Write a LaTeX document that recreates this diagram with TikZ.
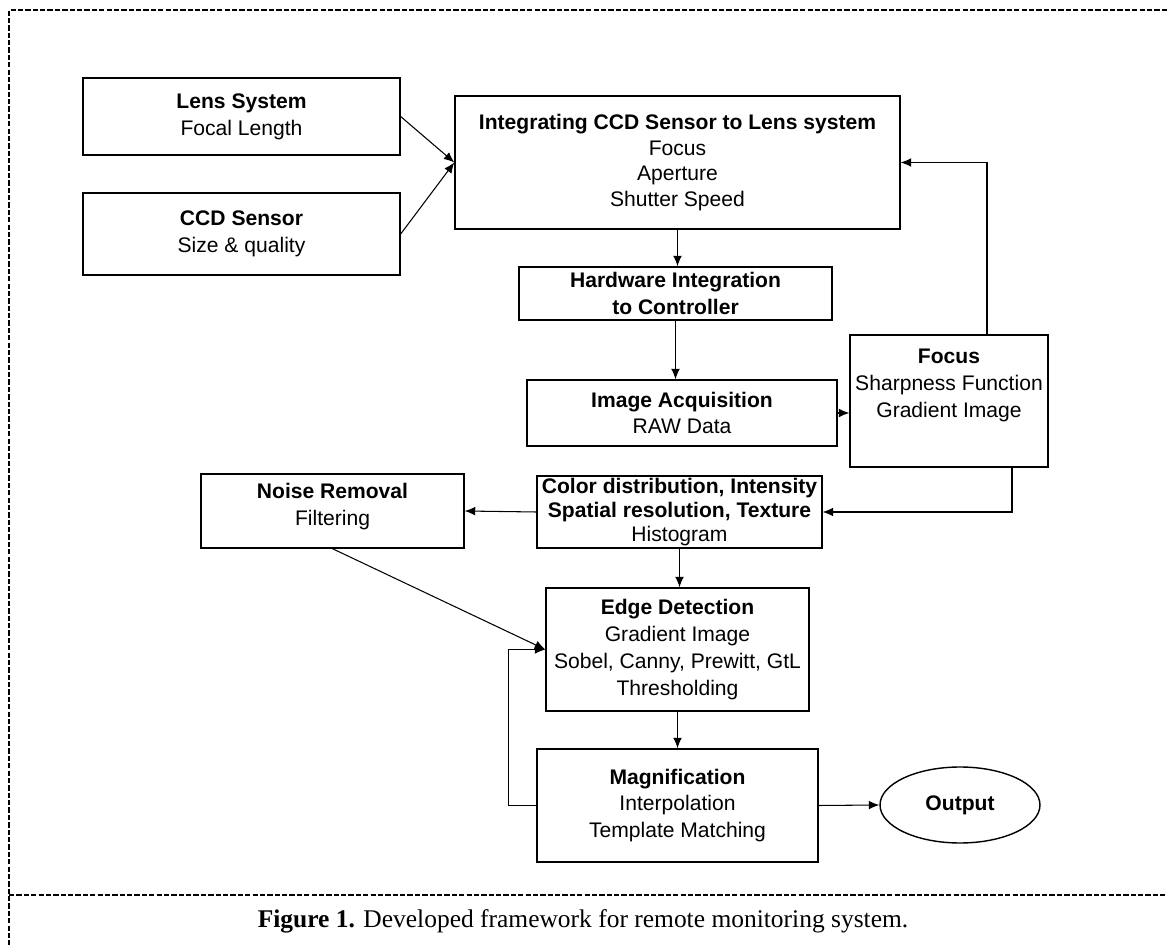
\documentclass[tikz,border=0pt]{standalone}
\usepackage{fontspec}
\setmainfont{Liberation Serif}
\setsansfont{Liberation Sans}
\usetikzlibrary{arrows.meta,shapes.geometric}

\begin{document}
\begin{tikzpicture}[x=0.02cm,y=-0.02cm,
  blk/.style={draw, line width=0.8pt, align=center, inner sep=1pt,
    font=\sffamily\fontsize{12}{15.3}\selectfont},
  arr/.style={-{Latex[length=6pt,width=5pt]}, line width=0.6pt},
  frame/.style={line width=1pt, dash pattern=on 3pt off 1.2pt}]
\useasboundingbox (0,0) rectangle (1167,945);
% outer frame
\draw[frame] (1167,10) -- (9,10) -- (9,945);
\draw[frame] (9,895) -- (1167,895);
% blocks
\node[blk, minimum width=6.34cm, minimum height=1.54cm] (lens) at (241.5,116.5) {\textbf{Lens System}\\Focal Length};
\node[blk, minimum width=6.34cm, minimum height=1.64cm] (ccd) at (241.5,234) {\textbf{CCD Sensor}\\Size \& quality};
\node[blk, minimum width=8.9cm, minimum height=2.66cm, font=\sffamily\fontsize{12}{14.5}\selectfont] (integ) at (677.5,162.5) {\textbf{Integrating CCD Sensor to Lens system}\\Focus\\Aperture\\Shutter Speed};
\node[blk, minimum width=6.26cm, minimum height=1.06cm] (hw) at (675.5,293.5) {\textbf{Hardware Integration}\\\textbf{to Controller}};
\node[blk, minimum width=6.2cm, minimum height=1.32cm] (acq) at (682,413) {\textbf{Image Acquisition}\\RAW Data};
\node[blk, text depth=20pt, minimum width=3.96cm, minimum height=2.64cm] (focus) at (949,401) {\textbf{Focus}\\Sharpness Function\\Gradient Image};
\node[blk, inner sep=0pt, minimum width=5.7cm, minimum height=1.44cm, font=\sffamily\fontsize{12}{13.5}\selectfont] (color) at (679.5,512) {\textbf{Color distribution, Intensity}\\\textbf{Spatial resolution, Texture}\\Histogram};
\node[blk, text depth=7.5pt, minimum width=5.26cm, minimum height=1.48cm] (noise) at (332.5,511) {\textbf{Noise Removal}\\Filtering};
\node[blk, minimum width=5.26cm, minimum height=2.46cm] (edge) at (677.5,649.5) {\textbf{Edge Detection}\\Gradient Image\\Sobel, Canny, Prewitt, GtL\\Thresholding};
\node[blk, minimum width=5.62cm, minimum height=2.26cm] (mag) at (677.5,805.5) {\textbf{Magnification}\\Interpolation\\Template Matching};
\node[blk, ellipse, inner sep=0pt, minimum width=3.2cm, minimum height=1.52cm] (out) at (960,805) {\textbf{Output}};
% connectors
\draw[arr] (lens.east) -- (integ.west);
\draw[arr] (ccd.east) -- (integ.west);
\draw[arr] (integ.south) -- (integ.south |- hw.north);
\draw[arr] (hw.south) -- (hw.south |- acq.north);
\draw[arr] (acq.east) -- (acq.east -| focus.west);
\draw[arr] (focus.north) ++(38,0) |- (integ.east);
\draw[arr] (focus.south) ++(63,0) |- (color.east);
\draw[arr] (color.west) -- (noise.east);
\draw[arr] (color.south) -- (color.south |- edge.north);
\draw[arr] (noise.south) -- (edge.west);
\draw[arr] (edge.south) -- (edge.south |- mag.north);
\draw[arr] (mag.west) -- ++(-28,0) |- (edge.west);
\draw[arr] (mag.east) -- (out.west);
% caption
\node (cap) at (583,921) {\fontsize{14.5}{17}\selectfont\textbf{Figure 1.} Developed framework for remote monitoring system.};
\end{tikzpicture}
\end{document}
